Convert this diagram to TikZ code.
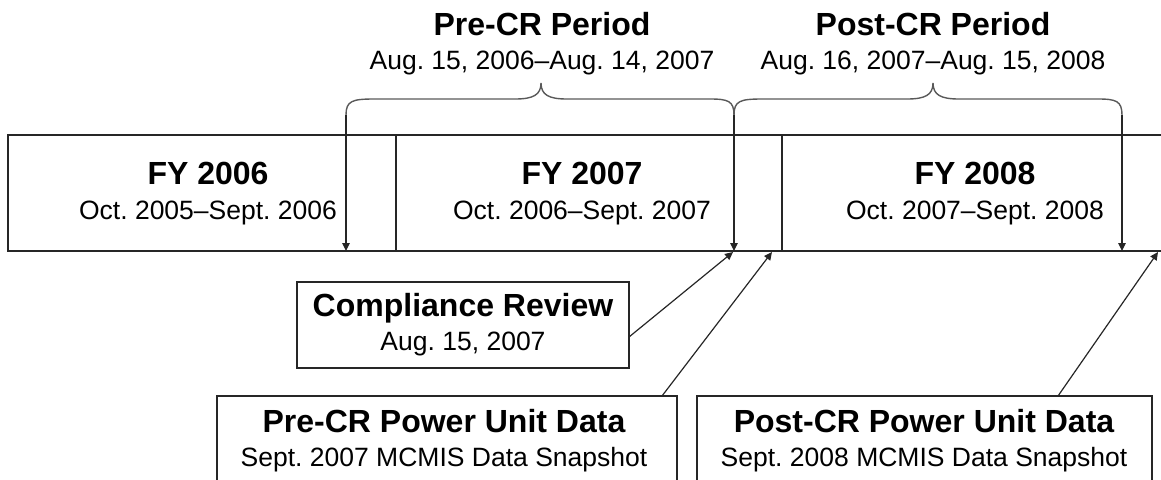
\documentclass[tikz,border=0pt]{standalone}
\usepackage{fontspec}
\setmainfont{Liberation Sans}
\usetikzlibrary{arrows.meta}
\frenchspacing
\begin{document}
\begin{tikzpicture}[x=1pt,y=-1pt,
  line/.style={draw=black!85, line width=1.2pt},
  arr/.style={line, -{Triangle[length=8pt,width=7.5pt]}},
  brace/.style={draw=black!65, line width=1.4pt},
  hd/.style={font=\fontsize{32}{38}\selectfont\bfseries, anchor=base, inner sep=0pt},
  sub/.style={font=\fontsize{26.5}{32}\selectfont, anchor=base, inner sep=0pt},
  cell/.style={draw=black!85, line width=1.3pt, anchor=north west, inner sep=0pt, outer sep=0pt}]
\useasboundingbox (0,0) rectangle (1161,479);

% timeline cells
\node[cell, minimum width=388pt, minimum height=116pt] (fy06) at (8,135) {};
\node[cell, minimum width=386pt, minimum height=116pt] (fy07) at (396,135) {};
\node[cell, minimum width=400pt, minimum height=116pt] (fy08) at (782,135) {};

\node[hd]  (t06)  at (208,184) {FY 2006};
\node[sub] (d06)  at (208,219) {Oct. 2005–Sept. 2006};
\node[hd]  (t07)  at (582,184) {FY 2007};
\node[sub] (d07)  at (582,219) {Oct. 2006–Sept. 2007};
\node[hd]  (t08)  at (975,184) {FY 2008};
\node[sub] (d08)  at (975,219) {Oct. 2007–Sept. 2008};

% period labels
\node[hd]  (pre)   at (542,35) {Pre-CR Period};
\node[sub] (pred)  at (542,69) {Aug. 15, 2006–Aug. 14, 2007};
\node[hd]  (post)  at (933,35) {Post-CR Period};
\node[sub] (postd) at (933,69) {Aug. 16, 2007–Aug. 15, 2008};

% brace coordinates
\coordinate (bA) at (346,115);
\coordinate (bB) at (734,115);
\coordinate (bC) at (1122,115);
\coordinate (eA) at (346,251);
\coordinate (eB) at (734,251);
\coordinate (eC) at (1122,251);

% braces
\draw[brace] (bA) .. controls (346,101) and (352,99) .. (374,99) -- (515,99)
  .. controls (533,99) and (541,95) .. (541,83)
  .. controls (541,95) and (549,99) .. (567,99) -- (710,99)
  .. controls (728,99) and (734,101) .. (bB);
\draw[brace] (bB) .. controls (734,101) and (740,99) .. (762,99) -- (907,99)
  .. controls (925,99) and (933,95) .. (933,83)
  .. controls (933,95) and (941,99) .. (959,99) -- (1098,99)
  .. controls (1116,99) and (1122,101) .. (bC);

\draw[arr] (bA) -- (eA);
\draw[arr] (bB) -- (eB);
\draw[arr] (bC) -- (eC);

% lower boxes
\node[cell, minimum width=332pt, minimum height=86pt] (cr) at (297,282) {};
\node[hd]  (crt) at (463,316) {Compliance Review};
\node[sub] (crd) at (463,350) {Aug. 15, 2007};

\node[cell, minimum width=460pt, minimum height=110pt] (pu) at (217,396) {};
\node[hd]  (put) at (444,432) {Pre-CR Power Unit Data};
\node[sub] (pud) at (444,466) {Sept. 2007 MCMIS Data Snapshot};

\node[cell, minimum width=455pt, minimum height=110pt] (qu) at (697,396) {};
\node[hd]  (qut) at (924,432) {Post-CR Power Unit Data};
\node[sub] (qud) at (924,466) {Sept. 2008 MCMIS Data Snapshot};

% connectors up to timeline
\coordinate (uA) at (733,252);
\coordinate (uB) at (772,252);
\coordinate (uC) at (1158,252);
\draw[arr] ([yshift=-12pt]cr.east) -- (uA);
\draw[arr] ([xshift=-15pt]pu.north east) -- (uB);
\draw[arr] ([xshift=-94pt]qu.north east) -- (uC);
\end{tikzpicture}
\end{document}
